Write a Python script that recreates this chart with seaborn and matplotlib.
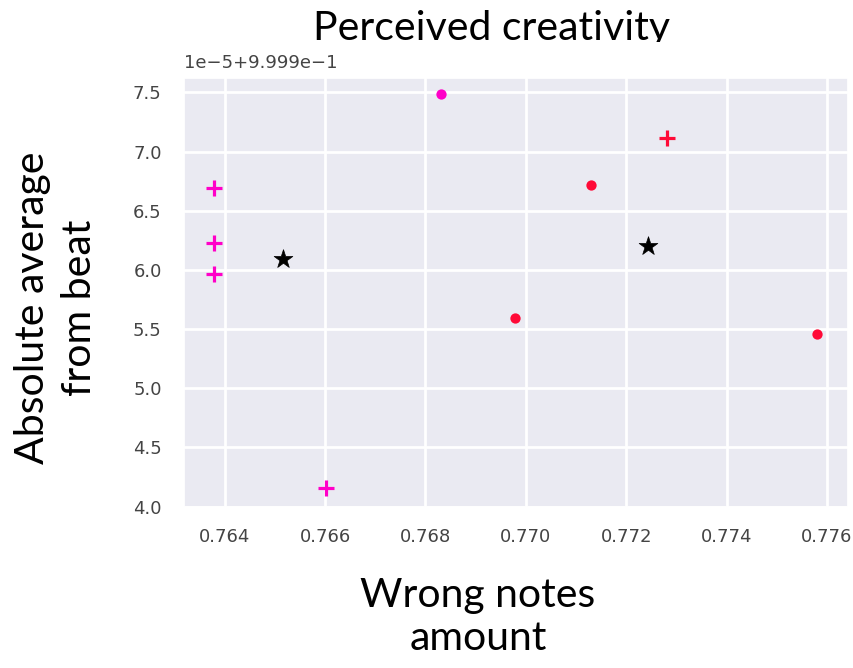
import matplotlib
matplotlib.use("Agg")
import matplotlib.pyplot as plt
import seaborn as sns
from matplotlib.ticker import MultipleLocator
from matplotlib.transforms import Bbox, TransformedBbox

# Cluster A (magenta): "+" samples and one dot sample
a_plus_x = [0.76378, 0.76378, 0.76378, 0.76602]
a_plus_y = [0.99996695, 0.99996230, 0.99995963, 0.99994154]
a_dot_x = [0.76831]
a_dot_y = [0.99997485]

# Cluster B (red): dot samples and one "+" sample
b_dot_x = [0.77130, 0.76979, 0.77581]
b_dot_y = [0.99996716, 0.99995591, 0.99995456]
b_plus_x = [0.77281]
b_plus_y = [0.99997118]

# Cluster centres
centre_x = [0.76517, 0.77244]
centre_y = [0.99996090, 0.99996205]

MAGENTA = "#ff00c8"
RED = "#ff0a37"

sns.set_theme(style="darkgrid")
plt.rcParams["font.family"] = ["DejaVu Sans"]
plt.rcParams["axes.unicode_minus"] = True

fig = plt.figure(figsize=(8.54, 6.68), dpi=100)
W, H = 854, 668
ax = fig.add_axes([184.5 / W, (H - 506.7) / H, 664 / W, 428.4 / H])

sns.scatterplot(x=a_plus_x, y=a_plus_y, marker="+", s=125, color=MAGENTA,
                linewidth=2.3, ax=ax)
sns.scatterplot(x=a_dot_x, y=a_dot_y, marker="o", s=55, color=MAGENTA,
                linewidth=0, ax=ax)
sns.scatterplot(x=b_dot_x, y=b_dot_y, marker="o", s=55, color=RED,
                linewidth=0, ax=ax)
sns.scatterplot(x=b_plus_x, y=b_plus_y, marker="+", s=125, color=RED,
                linewidth=2.3, ax=ax)
sns.scatterplot(x=centre_x, y=centre_y, marker="*", s=200, color="black",
                edgecolor="black", linewidth=0.5, ax=ax)

ax.set_xlim(0.76320, 0.77643)
ax.set_ylim(0.9999 + 3.9995e-5, 0.9999 + 7.62e-5)
ax.xaxis.set_major_locator(MultipleLocator(0.002))
ax.yaxis.set_major_locator(MultipleLocator(0.5e-5))

ax.grid(True, color="white", linewidth=2.0)
ax.tick_params(axis="both", labelsize=13, labelcolor="#444444")
ax.tick_params(axis="x", pad=9.5)
ax.tick_params(axis="y", pad=10.4)
offset = ax.yaxis.get_offset_text()
offset.set_fontsize(13)
offset.set_color("#444444")
ax.yaxis.OFFSETTEXTPAD = 7.3

label_font = dict(family=["Lato", "DejaVu Sans"], fontsize=29.5, color="black")
ax.set_xlabel("Wrong notes\namount", linespacing=1.2, **label_font)
ax.xaxis.set_label_coords((478 - 184.5) / 664, (506.7 - 617) / 428.4)
ax.xaxis.label.set_va("center")
ax.set_ylabel("Absolute average\nfrom beat", linespacing=1.32, **label_font)
ax.yaxis.set_label_coords((56 - 184.5) / 664, (506.7 - 308) / 428.4)
ax.yaxis.label.set_va("center")

# Title, trimmed along its lower edge
title = fig.text(492 / W, 1 - 40 / H, "Perceived creativity", ha="center",
                 va="baseline", **label_font)
title.set_clip_box(TransformedBbox(Bbox([[0, 1 - 42 / H], [1, 1]]),
                                   fig.transFigure))
title.set_clip_on(True)

fig.savefig("out.png", dpi=100)
